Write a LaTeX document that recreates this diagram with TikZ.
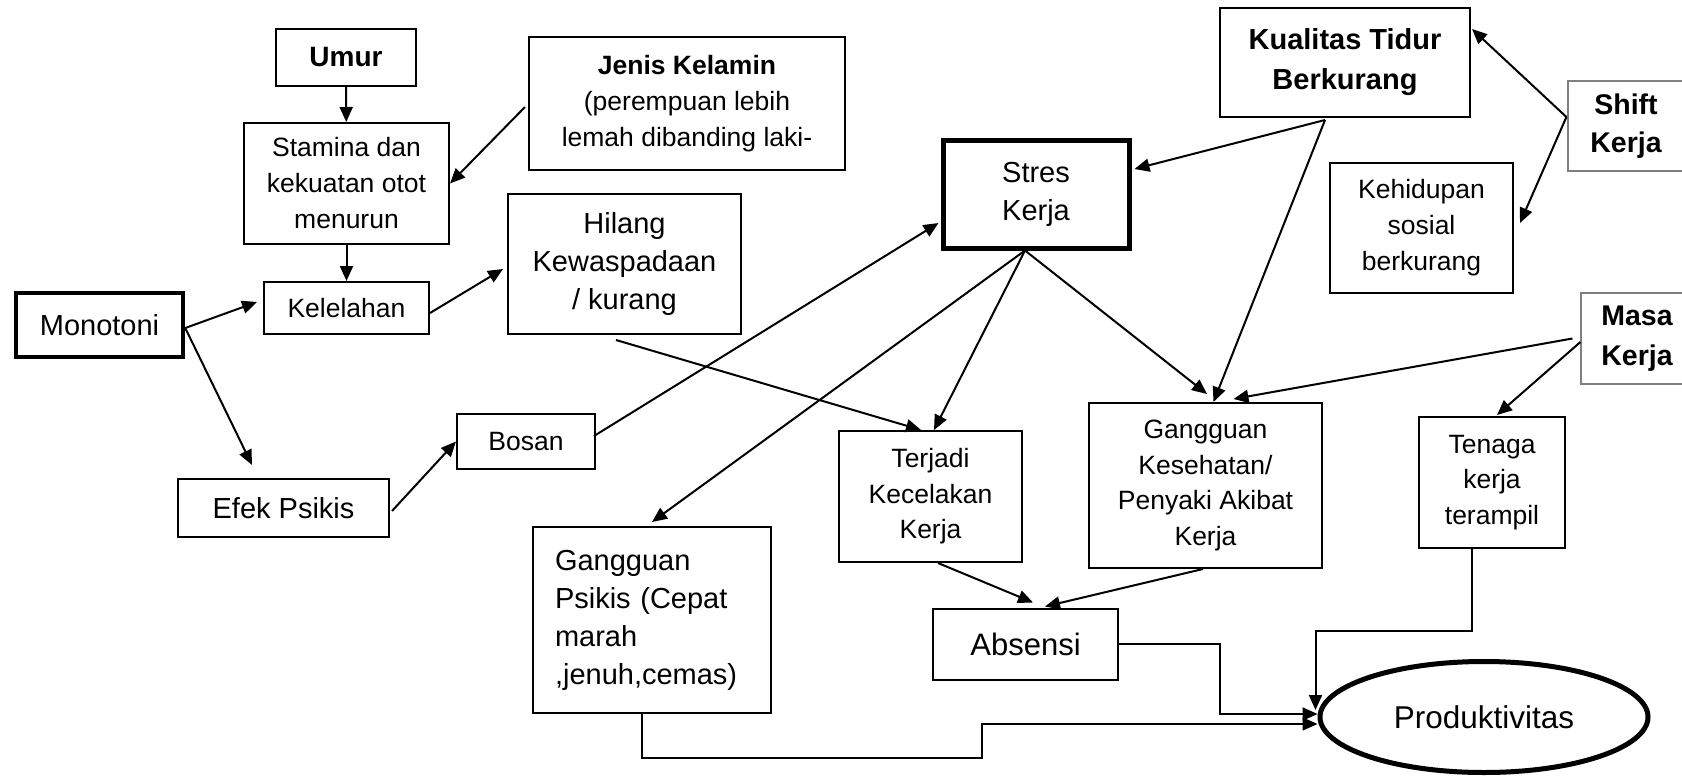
\documentclass[tikz,border=0pt]{standalone}
\usepackage{fontspec}
\setmainfont{Liberation Sans}
\usetikzlibrary{arrows.meta,shapes.geometric}

\newcommand{\hkecil}{\fontsize{13.25pt}{17.75pt}\selectfont}
\newcommand{\hbesar}{\fontsize{14.5pt}{19pt}\selectfont}
\newcommand{\htebal}{\fontsize{14.25pt}{19pt}\selectfont\bfseries}

\tikzset{
  kotak/.style={draw, line width=1pt, inner sep=0pt, align=center, font=\hkecil},
  kotaktebal/.style={kotak, line width=2.25pt, font=\hbesar},
  kotakabu/.style={draw=gray, line width=0.6pt, inner sep=0pt, align=center, font=\htebal},
  panah/.style={line width=1pt, -{Triangle[length=7.5pt,width=6.5pt]}},
}

\begin{document}
\begin{tikzpicture}[x=0.5pt,y=-0.5pt]
\useasboundingbox (0,0) rectangle (1682,776);

% kolom kiri
\node[kotak, font=\fontsize{14pt}{17pt}\selectfont\bfseries, minimum width=70pt, minimum height=28.5pt] (umur) at (346,57.5) {Umur};
\node[kotak, font=\fontsize{13.25pt}{18pt}\selectfont, minimum width=102.5pt, minimum height=60.5pt] (stamina) at (346.5,183.5) {Stamina dan\\kekuatan otot\\menurun};
\node[kotak, font=\fontsize{13.25pt}{18pt}\selectfont, minimum width=158pt, minimum height=66.5pt] (jenis) at (687,103.5) {\textbf{Jenis Kelamin}\\(perempuan lebih\\lemah dibanding laki-};
\node[kotak, minimum width=82.5pt, minimum height=26pt] (kelelahan) at (346.5,308) {Kelelahan};
\node[kotaktebal, minimum width=83.5pt, minimum height=32pt] (monotoni) at (99.5,325) {Monotoni};
\node[kotak, font=\hbesar, minimum width=116.5pt, minimum height=70pt] (hilang) at (624.5,264) {Hilang\\Kewaspadaan\\/ kurang};
\node[kotak, minimum width=69pt, minimum height=27.5pt] (bosan) at (526,441.5) {Bosan};
\node[kotak, font=\hbesar, minimum width=105.5pt, minimum height=29pt] (efek) at (283.5,508) {Efek Psikis};

% tengah
\node[kotaktebal, line width=2.5pt, minimum width=93pt, minimum height=54pt] (stres) at (1036,194) {Stres\\Kerja};
\node[kotak, font=\fontsize{14.5pt}{20pt}\selectfont\bfseries, minimum width=125pt, minimum height=54.5pt] (kualitas) at (1345,62.5) {Kualitas Tidur\\Berkurang};
\node[kotak, minimum width=91.5pt, minimum height=65.5pt] (terjadi) at (930.5,496.5) {Terjadi\\Kecelakan\\Kerja};
\node[kotak, minimum width=116.5pt, minimum height=82.5pt] (gkes) at (1205.5,485.5) {Gangguan\\Kesehatan/\\Penyaki Akibat\\Kerja};
\node[kotak, font=\hbesar, align=left, text width=97pt, inner xsep=11pt, minimum width=119pt, minimum height=93pt] (gpsikis) at (652,620) {Gangguan\\Psikis (Cepat\\marah\\,jenuh,cemas)};
\node[kotak, font=\fontsize{15.5pt}{19pt}\selectfont, minimum width=92.5pt, minimum height=35.5pt] (absensi) at (1025.5,644) {Absensi};

% kanan
\node[kotakabu, minimum width=58pt, minimum height=45pt] (shift) at (1626,126) {Shift\\Kerja};
\node[kotak, font=\fontsize{13.25pt}{18pt}\selectfont, minimum width=91.5pt, minimum height=65pt] (kehidupan) at (1421.5,228) {Kehidupan\\sosial\\berkurang};
\node[kotakabu, font=\fontsize{14.25pt}{20pt}\selectfont\bfseries, minimum width=56pt, minimum height=45.5pt] (masa) at (1637,338.5) {Masa\\Kerja};
\node[kotak, minimum width=73pt, minimum height=65.5pt] (tenaga) at (1492,482.5) {Tenaga\\kerja\\terampil};
\node[draw, ellipse, line width=2.5pt, inner sep=0pt, font=\fontsize{15.75pt}{19pt}\selectfont, minimum width=164pt, minimum height=55.5pt] (prod) at (1484,717) {Produktivitas};

% titik bantu
\coordinate (stresbawah) at ([xshift=-5.5pt]stres.south);
\coordinate (kualitasbawah) at ([xshift=-10pt,yshift=-1pt]kualitas.south);
\coordinate (shiftkiri) at ([xshift=-0.5pt,yshift=4.5pt]shift.west);
\coordinate (belok) at (982,758);

% panah kiri
\draw[panah] (umur) -- (stamina);
\draw[panah] (stamina) -- (kelelahan);
\draw[panah] ([xshift=-1.5pt,yshift=-1.75pt]jenis.west) -- (stamina.east);
\draw[panah] ([yshift=-1.5pt]monotoni.east) -- ([xshift=-3pt,yshift=3pt]kelelahan.west);
\draw[panah] ([yshift=-1.5pt]monotoni.east) -- ([xshift=-15.75pt,yshift=6.5pt]efek.north);
\draw[panah] ([yshift=-2.5pt]kelelahan.east) -- ([xshift=-2pt,yshift=-2.5pt]hilang.west);
\draw[panah] ([xshift=1pt,yshift=-1.5pt]efek.east) -- (bosan.west);
\draw[panah] ([xshift=-1pt,yshift=2.75pt]bosan.east) -- ([xshift=-1pt,yshift=-14.5pt]stres.west);
\draw[panah] ([xshift=-4.25pt,yshift=-2.5pt]hilang.south) -- ([xshift=-4.75pt]terjadi.north);

% panah dari stres, kualitas tidur, shift, masa kerja
\draw[panah] (stresbawah) -- ([xshift=1.75pt]terjadi.north);
\draw[panah] (stresbawah) -- ([yshift=2pt]gpsikis.north);
\draw[panah] (stresbawah) -- ([xshift=0.75pt,yshift=4pt]gkes.north);
\draw[panah] (kualitasbawah) -- ([xshift=1.5pt,yshift=12.5pt]stres.east);
\draw[panah] (kualitasbawah) -- ([xshift=4pt]gkes.north);
\draw[panah] (shiftkiri) -- ([xshift=0.5pt,yshift=16.75pt]kualitas.east);
\draw[panah] (shiftkiri) -- ([xshift=3pt,yshift=2.5pt]kehidupan.east);
\draw[panah] ([xshift=-4pt]masa.west) -- ([xshift=14pt,yshift=1.5pt]gkes.north);
\draw[panah] ([yshift=-1.75pt]masa.west) -- ([xshift=2.5pt,yshift=0.5pt]tenaga.north);

% ke absensi dan produktivitas
\draw[panah] ([xshift=3.75pt]terjadi.south) -- ([xshift=3.75pt,yshift=2.5pt]absensi.north);
\draw[panah] ([xshift=-1.25pt]gkes.south) -- ([xshift=9.75pt,yshift=0.5pt]absensi.north);
\draw[panah] (absensi.east) -- ++(101,0) |- ([yshift=1.5pt]prod.west);
\draw[panah, line width=0.75pt] ([xshift=-5pt]gpsikis.south) |- (belok) |- ([yshift=-3.5pt]prod.west);
\draw[panah] ([xshift=-10pt]tenaga.south) |- ([xshift=-1pt,yshift=43pt]prod.west) -- ([xshift=-1pt,yshift=3.5pt]prod.west);

\end{tikzpicture}
\end{document}
